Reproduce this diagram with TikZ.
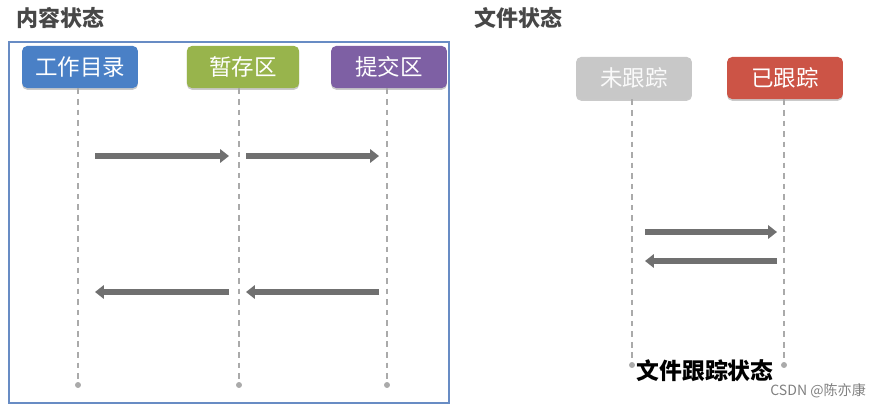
\documentclass[tikz,border=0pt]{standalone}
\usepackage{fontspec}
\setmainfont{Noto Sans CJK SC}
\usepackage{tikz}
\usetikzlibrary{arrows.meta,shadows}
\definecolor{workdir}{RGB}{74,128,198}
\definecolor{stage}{RGB}{152,180,76}
\definecolor{commit}{RGB}{126,96,164}
\definecolor{untracked}{RGB}{200,200,200}
\definecolor{tracked}{RGB}{204,84,70}
\definecolor{framecol}{RGB}{104,140,196}
\definecolor{flowgray}{RGB}{112,112,112}
\definecolor{lifegray}{RGB}{170,170,170}
\tikzset{statebox/.style={rounded corners=3pt,text=white,font=\fontsize{12.8}{14}\selectfont,
  minimum width=66pt,minimum height=24pt,inner sep=0pt,
  drop shadow={shadow xshift=0pt,shadow yshift=-1pt,opacity=.35,fill=black!60}},
 lifeline/.style={dashed,dash pattern=on 3.2pt off 2.8pt,lifegray,line width=.8pt},
 flow/.style={-{Triangle[length=5pt,width=7.5pt]},flowgray,line width=3pt},
 endpt/.style={circle,fill=lifegray,inner sep=0pt,minimum size=3.4pt},
 title/.style={font=\fontsize{12.5}{14}\selectfont\bfseries,text=black!72,anchor=west}}

\begin{document}
\begin{tikzpicture}[x=0.02cm,y=-0.02cm]
\useasboundingbox (0,0) rectangle (885,409);
% content states
\node[title] (ttl1) at (10,18) {内容状态};
\draw[framecol,line width=.8pt] (9,42) rectangle (449,403);
\node[statebox,fill=workdir] (wd) at (80,67) {工作目录};
\node[statebox,fill=stage,minimum width=64pt] (st) at (243,67) {暂存区};
\node[statebox,fill=commit] (cm) at (389,67) {提交区};
\node[endpt] (wdend) at (78,385) {};
\node[endpt] (stend) at (239,385) {};
\node[endpt] (cmend) at (387,385) {};
\draw[lifeline] (wd.south -| wdend) -- (wdend);
\draw[lifeline] (st.south -| stend) -- (stend);
\draw[lifeline] (cm.south -| cmend) -- (cmend);
\coordinate (a1) at (95,156); \coordinate (a2) at (229,156);
\coordinate (a3) at (246,156); \coordinate (a4) at (379,156);
\coordinate (b1) at (95,292); \coordinate (b2) at (229,292);
\coordinate (b3) at (246,292); \coordinate (b4) at (379,292);
\draw[flow] (a1) -- (a2);
\draw[flow] (a3) -- (a4);
\draw[flow] (b2) -- (b1);
\draw[flow] (b4) -- (b3);
% file states
\node[title] (ttl2) at (468,18) {文件状态};
\node[statebox,fill=untracked,text=white!96!gray] (ut) at (634,78) {未跟踪};
\node[statebox,fill=tracked] (tr) at (785,78) {已跟踪};
\node[endpt] (utend) at (632,365) {};
\node[endpt] (trend) at (784,365) {};
\draw[lifeline] (ut.south -| utend) -- (utend);
\draw[lifeline] (tr.south -| trend) -- (trend);
\coordinate (c1) at (645,232); \coordinate (c2) at (777,232);
\coordinate (d1) at (645,261); \coordinate (d2) at (777,261);
\draw[flow] (c1) -- (c2);
\draw[flow] (d2) -- (d1);
\node[font=\fontsize{13}{15}\selectfont\bfseries] (lbl) at (705,371) {文件跟踪状态};
\node[font=\fontsize{8}{9}\selectfont,text=black!50,anchor=east] (mark) at (872,391) {CSDN @陈亦康};
\end{tikzpicture}
\end{document}
